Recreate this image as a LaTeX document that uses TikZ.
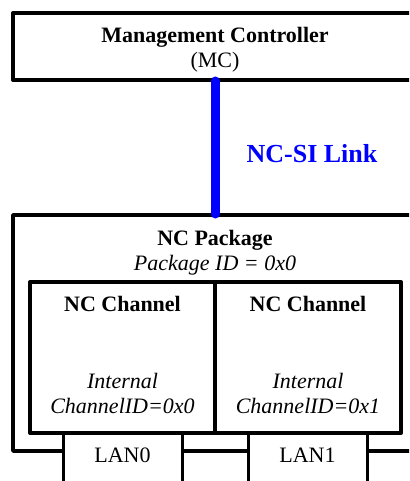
\documentclass[tikz,border=0pt]{standalone}
\usepackage{fontspec}
\setmainfont{Liberation Serif}
\begin{document}
\begin{tikzpicture}[x=1pt,y=-1pt,
  box/.style={draw, line width=3.5pt, line join=round, fill=white, inner sep=0pt, outer sep=0pt, anchor=north west},
  thin box/.style={box, line width=3pt},
  lbl/.style={font=\fontsize{22}{22}\selectfont, anchor=base, inner sep=0pt},
  link/.style={draw=blue, line width=9pt, line cap=round}]
\useasboundingbox (0,0) rectangle (409,481);
\clip (0,0) rectangle (409,481);
% Management controller
\node[box, line width=4pt, minimum width=437pt, minimum height=67pt] (mc) at (13,13) {};
% NC package
\node[box, minimum width=437pt, minimum height=236pt] (pkg) at (13,215) {};
% LAN ports
\node[thin box, minimum width=119pt, minimum height=80pt] (lan0) at (63,433) {};
\node[thin box, minimum width=119pt, minimum height=80pt] (lan1) at (248,433) {};
% Channels
\node[box, line width=4pt, minimum width=185pt, minimum height=151pt] (ch0) at (30,282) {};
\node[box, line width=4pt, minimum width=186pt, minimum height=151pt] (ch1) at (215,282) {};
% link
\coordinate (lx) at (215,0);
\draw[link] ([yshift=-1pt]mc.south -| lx) -- ([yshift=1pt]pkg.north -| lx);
% texts
\node[lbl] (mct) at (215,43) {\bfseries Management Controller};
\node[lbl] (mcs) at (215,68) {(MC)};
\node[lbl, text=blue, font=\fontsize{26}{26}\selectfont\bfseries] (nl) at (312,163) {NC-SI Link};
\node[lbl] (pkt) at (215,245) {\bfseries NC Package};
\node[lbl] (pki) at (215,270) {\itshape Package ID = 0x0};
\node[lbl] (c0t) at (122.5,311) {\bfseries NC Channel};
\node[lbl] (c1t) at (308,311) {\bfseries NC Channel};
\node[lbl] (c0a) at (122.5,388) {\itshape Internal};
\node[lbl] (c0b) at (122.5,413) {\itshape ChannelID=0x0};
\node[lbl] (c1a) at (308,388) {\itshape Internal};
\node[lbl] (c1b) at (308,413) {\itshape ChannelID=0x1};
\node[lbl] (l0) at (122.5,462) {LAN0};
\node[lbl] (l1) at (307.5,462) {LAN1};
\end{tikzpicture}
\end{document}
